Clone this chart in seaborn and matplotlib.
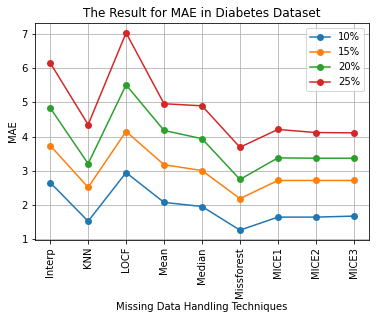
import matplotlib
matplotlib.use("Agg")
import matplotlib.pyplot as plt
import seaborn as sns
import pandas as pd

methods = ["Interp", "KNN", "LOCF", "Mean", "Median", "Missforest", "MICE1", "MICE2", "MICE3"]
rate_labels = ["10%", "15%", "20%", "25%"]
mae_10 = [2.66, 1.53, 2.95, 2.08, 1.96, 1.27, 1.65, 1.65, 1.68]
mae_15 = [3.74, 2.52, 4.15, 3.18, 3.01, 2.19, 2.72, 2.72, 2.72]
mae_20 = [4.84, 3.21, 5.51, 4.18, 3.94, 2.75, 3.38, 3.37, 3.37]
mae_25 = [6.155, 4.35, 7.03, 4.96, 4.90, 3.69, 4.21, 4.12, 4.11]

series = [mae_10, mae_15, mae_20, mae_25]
rows = []
for lab, vals in zip(rate_labels, series):
    for m, v in zip(methods, vals):
        rows.append({"Method": m, "MAE": v, "Rate": lab})
df = pd.DataFrame(rows)

plt.rcParams['font.family'] = ['DejaVu Sans']
fig = plt.figure(figsize=(376 / 72, 319 / 72), dpi=72)
ax = fig.add_axes([35 / 376, 1 - 240 / 319, (369 - 35) / 376, (240 - 23) / 319])

palette = sns.color_palette("tab10", 4)
sns.lineplot(data=df, x="Method", y="MAE", hue="Rate", palette=palette,
             marker="o", markersize=7, markeredgewidth=0, linewidth=1.5,
             sort=False, ax=ax)

ax.grid(True, color="#b0b0b0", linewidth=0.8)
ax.set_axisbelow(True)
ax.set_title("The Result for MAE in Diabetes Dataset", fontsize=12)
ax.set_xlabel("Missing Data Handling Techniques", fontsize=10)
ax.set_ylabel("MAE", fontsize=10)
ax.tick_params(axis="x", labelrotation=90, labelsize=10)
ax.tick_params(axis="y", labelsize=10)
leg = ax.legend(loc="upper right", title=None, fontsize=10)
for sp in ax.spines.values():
    sp.set_color("black")

fig.savefig("out.png", dpi=72, facecolor="white")
